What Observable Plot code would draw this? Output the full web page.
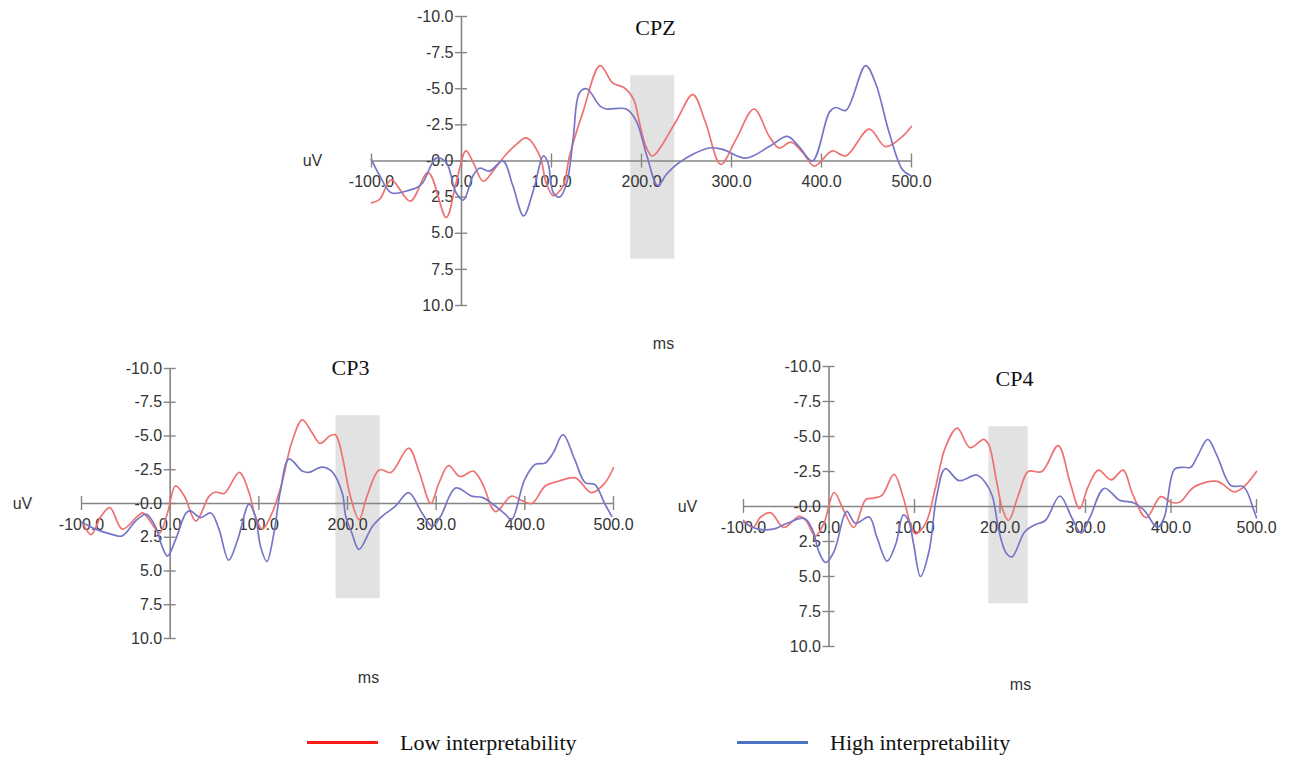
<!DOCTYPE html>
<html>
<head>
<meta charset="utf-8">
<script src="https://cdn.jsdelivr.net/npm/d3@7"></script>
<script src="https://cdn.jsdelivr.net/npm/@observablehq/plot@0.6"></script>
<style>
  html, body { margin: 0; padding: 0; background: #ffffff; }
  #root { position: relative; width: 1295px; height: 760px; overflow: hidden; background: #ffffff; }
  .panel { position: absolute; }
  .panel svg { overflow: visible; }
  .leg-line { position: absolute; height: 3px; }
  .leg-text { position: absolute; font-family: "Liberation Serif", "Times New Roman", serif; font-size: 22px; color: #111; line-height: 1; white-space: nowrap; }
</style>
</head>
<body>
<div id="root"></div>
<script>
// ---------------- DATA ----------------
const channels = ["CPZ", "CP3", "CP4"];
const conditions = ["Low interpretability", "High interpretability"];

const xTicks = [-100, 0, 100, 200, 300, 400, 500];
const xTickLabels = ["-100.0", "0.0", "100.0", "200.0", "300.0", "400.0", "500.0"];
const yTicks = [-10, -7.5, -5, -2.5, 0, 2.5, 5, 7.5, 10];
const yTickLabels = ["-10.0", "-7.5", "-5.0", "-2.5", "-0.0", "2.5", "5.0", "7.5", "10.0"];

// analysis window (ms, uV) per channel
const windowStart = [188, 187, 187];
const windowEnd = [237, 237, 233];
const windowTop = [-5.9, -6.5, -5.7];
const windowBottom = [6.8, 7.05, 6.95];

// [ms, uV] samples
const cpzLow = [[-100,2.9],[-91,2.66],[-78,1.3],[-57,2.78],[-37,0.8],[-17,3.9],[-6,1.5],[5,-0.7],[13,0.1],[24,1.4],[35,0.7],[48,-0.35],[61,-1.15],[72,-1.6],[87,-0.35],[94,1.5],[102,2.4],[113,1.7],[120,-0.35],[135,-3.4],[154,-6.6],[168,-5.4],[180,-5.1],[191,-4.3],[198,-2.6],[205,-1.0],[212,-0.35],[238,-2.7],[257,-4.6],[271,-2.7],[288,0.23],[305,-1.5],[325,-3.6],[342,-1.7],[353,-0.9],[366,-1.3],[379,-0.6],[392,0.35],[412,-0.7],[427,-0.35],[453,-2.2],[471,-1.0],[490,-1.7],[500,-2.4]];
const cpzHigh = [[-100,-0.1],[-91,1.0],[-78,2.2],[-57,2.0],[-50,1.85],[-43,1.5],[-28,-0.2],[-17,0.1],[-6,2.2],[2,2.7],[13,1.0],[20,0.5],[31,0.7],[46,0],[57,1.7],[69,3.8],[80,2.0],[91,-0.35],[96,0.1],[102,2.2],[109,2.5],[117,1.5],[124,-1.5],[131,-4.7],[139,-5.0],[154,-3.8],[161,-3.6],[183,-3.6],[194,-2.8],[206,-0.35],[218,1.7],[228,0.9],[242,0.1],[275,-0.9],[290,-0.8],[316,-0.2],[342,-1.0],[362,-1.7],[375,-1.0],[390,0],[409,-3.4],[416,-3.7],[427,-3.5],[449,-6.6],[460,-5.4],[475,-2.0],[490,0.6],[499,1.0]];

const cp3Low = [[-99,1.4],[-89,2.3],[-78,0.95],[-68,0.3],[-54,1.9],[-37,0.95],[-31,0.7],[-20,1.55],[-12,2.2],[-3,0.7],[6,-1.3],[16,-0.55],[29,1.3],[44,-0.55],[51,-0.85],[61,-0.75],[78,-2.3],[89,-0.8],[96,0.95],[104,1.9],[115,0.7],[126,-1.5],[137,-4.5],[149,-6.2],[160,-5.25],[169,-4.45],[180,-5.0],[186,-5.1],[190,-4.6],[196,-2.9],[203,-0.6],[213,1.2],[222,-0.55],[236,-2.5],[249,-2.3],[269,-4.1],[281,-2.3],[294,0],[303,-1.5],[314,-2.8],[327,-2.0],[342,-2.4],[352,-1.5],[367,0.6],[385,-0.55],[397,-0.2],[408,0],[423,-1.3],[438,-1.65],[457,-1.9],[475,-0.8],[490,-1.5],[500,-2.65]];
const cp3High = [[-99,1.4],[-84,1.9],[-65,2.3],[-54,2.4],[-39,1.3],[-27,0.8],[-16,1.8],[-9,3.2],[-3,3.9],[6,2.7],[18,0.7],[23,0.55],[34,1.05],[46,0.7],[55,1.9],[66,4.2],[76,2.7],[89,0.05],[96,0.95],[102,3.2],[109,4.3],[117,2.2],[124,-0.8],[134,-3.3],[149,-2.4],[156,-2.3],[171,-2.7],[182,-2.4],[194,-0.8],[198,0.95],[205,2.2],[213,3.4],[228,1.7],[239,0.95],[254,0.2],[269,-0.8],[284,0.7],[296,1.7],[305,0.95],[322,-1.15],[340,-0.55],[352,-0.45],[363,0],[378,0.8],[385,1.2],[400,-1.8],[412,-2.9],[423,-3.0],[432,-3.75],[443,-5.1],[456,-3.3],[468,-1.55],[479,-1.4],[490,0],[498,0.95]];

const cp4Low = [[-100,1.0],[-89,1.5],[-80,0.75],[-68,0.45],[-53,1.5],[-35,0.7],[-27,1.0],[-16,2.1],[-6,1.2],[6,-1.0],[17,0.25],[29,1.5],[43,-0.5],[52,-0.6],[62,-0.8],[76,-2.3],[87,-0.6],[95,1.2],[101,1.95],[113,1.2],[124,-1.2],[136,-4.2],[150,-5.6],[165,-4.2],[181,-4.8],[187,-4.4],[196,-1.8],[203,0.2],[210,1.0],[222,-0.9],[233,-2.5],[249,-2.5],[268,-4.35],[282,-1.7],[293,0.15],[303,-1.4],[315,-2.6],[330,-1.9],[344,-2.6],[355,-0.9],[371,0.8],[388,-0.7],[400,-0.3],[410,-0.3],[427,-1.4],[454,-1.8],[474,-1.05],[485,-1.4],[500,-2.5]];
const cp4High = [[-100,1.1],[-84,1.6],[-64,1.6],[-49,1.2],[-29,0.85],[-19,1.7],[-12,3.2],[-4,4.0],[6,3.2],[17,0.75],[21,0.35],[31,1.2],[47,0.75],[56,2.2],[68,3.9],[78,2.7],[87,0.6],[93,1.0],[99,2.7],[107,5.0],[117,3.2],[126,-0.75],[136,-2.7],[152,-1.85],[173,-2.25],[183,-1.7],[191,-0.75],[199,1.8],[207,3.3],[214,3.6],[229,1.8],[241,1.3],[253,1.0],[270,-0.75],[284,0.8],[295,1.9],[305,0.8],[322,-1.3],[340,-0.45],[357,-0.25],[369,0.3],[384,1.5],[392,0.8],[404,-2.65],[414,-2.8],[423,-2.8],[431,-3.6],[443,-4.8],[454,-3.6],[470,-1.5],[485,-1.4],[497,0.3],[500,0.8]];

const seriesByChannel = [[cpzLow, cpzHigh], [cp3Low, cp3High], [cp4Low, cp4High]];

// ---------------- STYLE / LAYOUT ----------------
const lineColors = ["#ef7272", "#7676c8"];
const legendColors = ["#ff1a1a", "#4a72c4"];
const axisColor = "#858585";
const labelColor = "#333333";

const layout = [
  { left: 290, top: 0,   w: 640, h: 360, ml: 81, mr: 19, mt: 16, mb: 55, tdx: 284, tdy: 11, udx: -59, mdx: 292, mdy: 38 },
  { left: 0,   top: 340, w: 640, h: 360, ml: 81, mr: 27, mt: 28, mb: 62, tdx: 269, tdy: -1, udx: -59, mdx: 287, mdy: 39 },
  { left: 660, top: 340, w: 635, h: 360, ml: 83, mr: 39, mt: 26, mb: 54, tdx: 271, tdy: 12, udx: -56, mdx: 277, mdy: 38 }
];

const root = document.getElementById("root");

channels.forEach((ch, i) => {
  const L = layout[i];
  const rows = [];
  seriesByChannel[i].forEach((series, c) => {
    series.forEach(([ms, uv]) => rows.push({ channel: ch, condition: conditions[c], ms, uv }));
  });
  const win = [{ x1: windowStart[i], x2: windowEnd[i], y1: windowTop[i], y2: windowBottom[i] }];

  const chart = Plot.plot({
    width: L.w,
    height: L.h,
    marginLeft: L.ml,
    marginRight: L.mr,
    marginTop: L.mt,
    marginBottom: L.mb,
    x: { domain: [-100, 500], axis: null },
    y: { domain: [-10, 10], reverse: true, axis: null },
    color: { domain: conditions, range: lineColors },
    style: { fontFamily: "'Liberation Sans', Arial, sans-serif", fontSize: "16px", background: "transparent", overflow: "visible" },
    marks: [
      Plot.rect(win, { x1: "x1", x2: "x2", y1: "y1", y2: "y2", fill: "#e2e2e2" }),
      Plot.ruleY([0], { x1: -100, x2: 500, stroke: axisColor, strokeWidth: 1.6 }),
      Plot.ruleX([0], { y1: -10, y2: 10, stroke: axisColor, strokeWidth: 1.6 }),
      Plot.ruleX(xTicks, { x: d => d, y1: 0, y2: 0, insetTop: -7, insetBottom: -7, stroke: axisColor, strokeWidth: 1.4 }),
      Plot.ruleY(yTicks, { y: d => d, x1: 0, x2: 0, insetLeft: -6, insetRight: -6, stroke: axisColor, strokeWidth: 1.4 }),
      Plot.text(xTicks, { x: d => d, y: 0, dy: 21, text: (d, k) => xTickLabels[k], fill: labelColor, fontSize: 16 }),
      Plot.text(yTicks, { x: 0, y: d => d, dx: -8, textAnchor: "end", text: (d, k) => yTickLabels[k], fill: labelColor, fontSize: 16 }),
      Plot.line(rows, { x: "ms", y: "uv", z: "condition", stroke: "condition", curve: "catmull-rom", strokeWidth: 1.7 }),
      Plot.text([ch], { frameAnchor: "top-left", lineAnchor: "middle", dx: L.tdx, dy: L.tdy, textAnchor: "middle", fontFamily: "'Liberation Serif', 'Times New Roman', serif", fontSize: 22, fill: "#111" }),
      Plot.text(["uV"], { x: -100, y: 0, dx: L.udx, textAnchor: "middle", fill: labelColor, fontSize: 16 }),
      Plot.text(["ms"], { frameAnchor: "bottom-left", lineAnchor: "middle", dx: L.mdx, dy: L.mdy, textAnchor: "middle", fill: labelColor, fontSize: 16 })
    ]
  });
  const div = document.createElement("div");
  div.className = "panel";
  div.style.left = L.left + "px";
  div.style.top = L.top + "px";
  div.appendChild(chart);
  root.appendChild(div);
});

// ---------------- LEGEND ----------------
const legendItems = [
  { lx: 307, tx: 400 },
  { lx: 737, tx: 830 }
];
conditions.forEach((name, c) => {
  const line = document.createElement("div");
  line.className = "leg-line";
  line.style.left = legendItems[c].lx + "px";
  line.style.top = "741px";
  line.style.width = "71px";
  line.style.background = legendColors[c];
  root.appendChild(line);
  const t = document.createElement("div");
  t.className = "leg-text";
  t.style.left = legendItems[c].tx + "px";
  t.style.top = "732px";
  t.textContent = name;
  root.appendChild(t);
});
</script>
</body>
</html>
